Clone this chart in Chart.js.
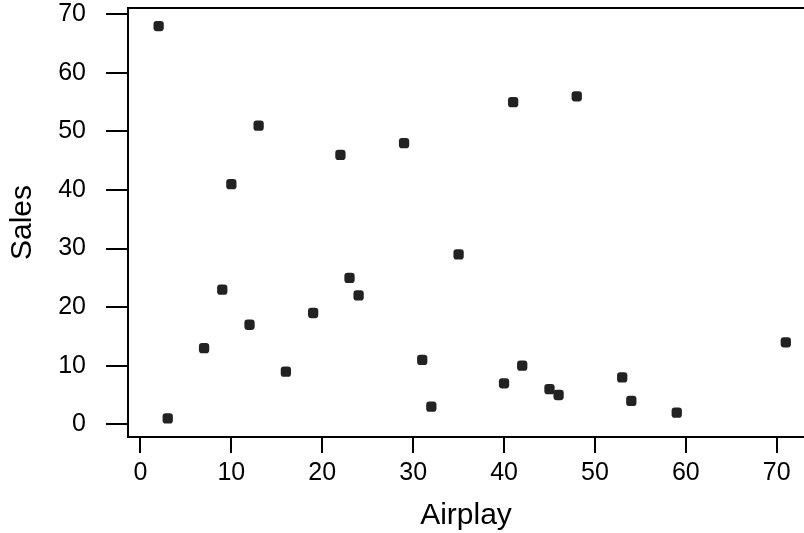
<!DOCTYPE html>
<html>
<head>
<meta charset="utf-8">
<script src="https://cdn.jsdelivr.net/npm/chart.js@4/dist/chart.umd.min.js"></script>
<style>
  html, body { margin: 0; padding: 0; background: #fff; overflow: hidden; }
</style>
</head>
<body>
<canvas id="chart" width="804" height="533"></canvas>
<script>
// Airplay vs Sales
var airplay = [2, 3, 7, 9, 10, 12, 13, 16, 19, 22, 23, 24, 29, 31, 32, 35, 40, 41, 42, 45, 46, 48, 53, 54, 59, 71];
var sales   = [68, 1, 13, 23, 41, 17, 51, 9, 19, 46, 25, 22, 48, 11, 3, 29, 7, 55, 10, 6, 5, 56, 8, 4, 2, 14];
var xTicks = [0, 10, 20, 30, 40, 50, 60, 70];
var yTicks = [0, 10, 20, 30, 40, 50, 60, 70];

var points = airplay.map(function (a, i) { return { x: a, y: sales[i] }; });

// top edge of the box (R draws the full frame)
var topLine = {
  id: 'topLine',
  afterDraw: function (chart) {
    var a = chart.chartArea, ctx = chart.ctx;
    ctx.save();
    ctx.strokeStyle = '#000';
    ctx.lineWidth = 2;
    ctx.beginPath();
    ctx.moveTo(a.left - 1, a.top);
    ctx.lineTo(a.right, a.top);
    ctx.stroke();
    ctx.restore();
  }
};

function noPad(s) { s.paddingLeft = 0; s.paddingRight = 0; s.paddingTop = 0; s.paddingBottom = 0; }

var font = 'Liberation Sans, Arial, Helvetica, sans-serif';

new Chart(document.getElementById('chart'), {
  type: 'scatter',
  data: {
    datasets: [{
      data: points,
      pointStyle: 'rectRounded',
      pointRadius: 6,
      pointHoverRadius: 6,
      backgroundColor: '#222',
      borderColor: '#222',
      borderWidth: 0
    }]
  },
  options: {
    responsive: false,
    animation: false,
    layout: { autoPadding: false, padding: { top: 8, right: 0, left: 0, bottom: 0 } },
    plugins: { legend: { display: false }, tooltip: { enabled: false } },
    scales: {
      x: {
        type: 'linear',
        min: -1.37,
        max: 73,
        afterBuildTicks: function (s) { s.ticks = xTicks.map(function (v) { return { value: v }; }); },
        afterFit: function (s) { s.height = 96; noPad(s); },
        grid: { drawOnChartArea: false, color: '#000', lineWidth: 2, tickLength: 16 },
        border: { color: '#000', width: 2 },
        ticks: { color: '#000', font: { family: font, size: 25 }, padding: 5, maxRotation: 0 },
        title: { display: true, text: 'Airplay', color: '#000', font: { family: font, size: 30 }, padding: { top: 0, bottom: -1 } }
      },
      y: {
        type: 'linear',
        min: -2.17,
        max: 71.08,
        afterBuildTicks: function (s) { s.ticks = yTicks.map(function (v) { return { value: v }; }); },
        afterFit: function (s) { s.width = 128; noPad(s); },
        grid: { drawOnChartArea: false, color: '#000', lineWidth: 2, tickLength: 22 },
        border: { color: '#000', width: 2 },
        ticks: { color: '#000', font: { family: font, size: 25 }, padding: 20 },
        title: { display: true, text: 'Sales', color: '#000', font: { family: font, size: 30 }, padding: { top: 5, bottom: 0 } }
      }
    }
  },
  plugins: [topLine]
});
</script>
</body>
</html>
